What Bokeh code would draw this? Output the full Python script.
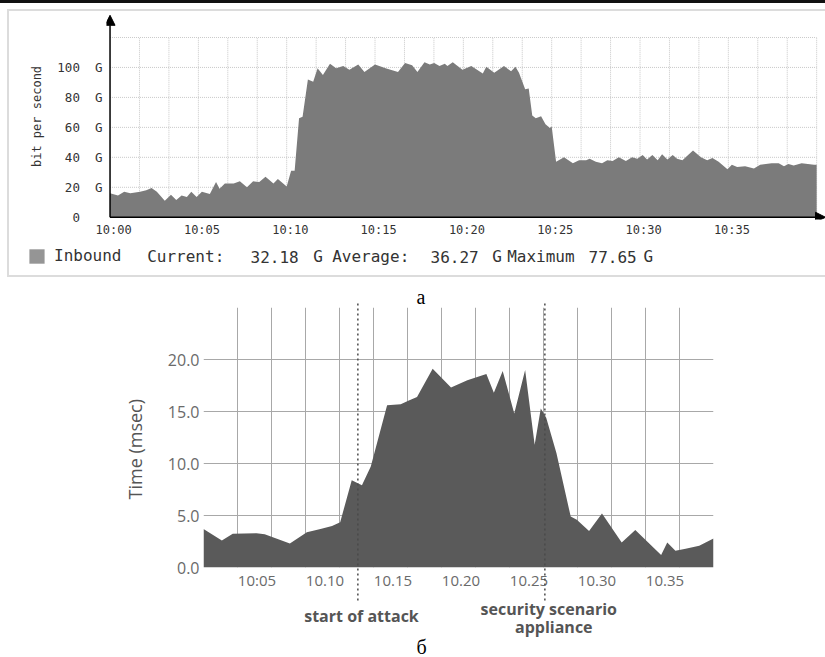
import numpy as np
from bokeh.plotting import figure
from bokeh.models import (Range1d, FixedTicker, Arrow, NormalHead, Label, Legend,
                          LegendItem, NumeralTickFormatter)
from bokeh.layouts import column
from bokeh.embed import file_html
from bokeh.resources import INLINE

# ---------------- data: chart (а) inbound traffic, minutes after 10:00, Gbit/s
top_t = [0.0, 0.45, 0.8, 1.15, 1.7, 2.05, 2.35, 2.65, 3.1, 3.45, 3.75, 4.05, 4.35, 4.6, 4.9,
         5.2, 5.65, 6.0, 6.2, 6.5, 7.0, 7.35, 7.75, 8.1, 8.45, 8.8, 9.25, 9.5, 10.0, 10.25,
         10.45, 10.7, 10.9, 11.2, 11.5, 11.75, 12.05, 12.45, 12.8, 13.2, 13.55, 14.05, 14.4,
         15.0, 15.6, 16.3, 16.7, 17.1, 17.4, 17.8, 18.1, 18.35, 18.65, 18.95, 19.1, 19.4,
         19.95, 20.45, 21.1, 21.3, 21.75, 22.3, 22.7, 22.95, 23.15, 23.5, 23.7, 23.9, 24.1,
         24.4, 24.65, 24.9, 25.0, 25.25, 25.7, 26.2, 26.55, 26.95, 27.15, 27.5, 27.85, 28.15,
         28.45, 28.8, 29.2, 29.55, 29.85, 30.15, 30.4, 30.7, 31.0, 31.25, 31.55, 31.85, 32.1,
         32.4, 33.0, 33.45, 33.8, 34.1, 34.45, 34.95, 35.2, 35.5, 35.95, 36.45, 36.8, 37.45,
         37.85, 38.15, 38.4, 38.7, 39.15, 39.85, 40.0]
top_v = [16, 14.5, 17, 16, 17, 18, 19.5, 17, 11, 15, 11.5, 14.5, 13.5, 17, 13.5,
         17, 15.5, 23.5, 19, 22.5, 22.5, 24, 20, 24, 23.5, 27, 22.5, 25.5, 20.5, 31,
         31, 66, 67, 92, 90.5, 99.5, 95, 102.5, 99.5, 101, 98.5, 102, 97,
         102, 99.5, 97, 103, 101.5, 97, 103.5, 102, 103, 101, 102.5, 101, 103.5,
         98.5, 101, 96, 100.5, 96.5, 101, 97.5, 100.5, 96.5, 85.5, 86, 68, 66,
         67.5, 62, 59.5, 60.5, 37, 40, 36, 38, 38, 39, 37, 36, 38,
         37.5, 40, 37.5, 40, 39, 41.5, 38.5, 41.5, 38, 42, 38.5, 41.5, 39,
         38, 44.5, 40, 38, 39.5, 37, 32, 35, 33.5, 34, 32.5, 35, 36,
         36, 34, 35.5, 34.5, 36, 35, 35]
top_xticks = [0, 5, 10, 15, 20, 25, 30, 35]
top_xlabels = ["10:00", "10:05", "10:10", "10:15", "10:20", "10:25", "10:30", "10:35"]
top_yticks = [0, 20, 40, 60, 80, 100]
top_ylabels = ["0", "20", "40", "60", "80", "100"]
series_name = "Inbound"
stat_names = ["Current:", "Average:", "Maximum"]
stat_values = ["32.18", "36.27", "77.65"]

# ---------------- data: chart (б) response time, minutes after 10:00, msec
bot_t = [2.5, 3.85, 4.65, 6.4, 7.0, 8.85, 10.1, 11.1, 11.95, 12.55, 13.4, 14.15, 14.8, 16.0,
         17.0, 17.6, 18.2, 19.35, 20.7, 21.9, 23.3, 23.85, 24.5, 25.35, 26.15, 26.85, 27.3,
         27.7, 28.45, 29.5, 29.95, 30.85, 31.8, 33.25, 34.25, 36.15, 36.6, 37.2, 37.95,
         38.95, 40.0]
bot_v = [3.7, 2.6, 3.25, 3.3, 3.2, 2.3, 3.4, 3.7, 4.0, 4.35, 8.4, 7.9, 9.7, 15.6,
         15.7, 16.05, 16.4, 19.1, 17.3, 18.0, 18.6, 16.8, 18.9, 14.8, 19.0, 11.8, 15.3,
         14.4, 11.0, 4.9, 4.6, 3.5, 5.2, 2.4, 3.6, 1.2, 2.4, 1.6, 1.8,
         2.1, 2.8]
bot_xticks = [5, 10, 15, 20, 25, 30, 35]
bot_xlabels = ["10:05", "10.10", "10.15", "10.20", "10.25", "10.30", "10.35"]
bot_yticks = [0, 5, 10, 15, 20]
event_t = [13.85, 27.6]
event_text = [["start of attack"], ["security scenario", "appliance"]]
captions = ["а", "б"]

NB = "\u00a0"
MONO = "DejaVu Sans Mono"
SANS = "Open Sans"
COMMON = dict(output_backend="svg", toolbar_location=None, title=None)

def transparent(p):
    p.outline_line_color = None
    p.border_fill_alpha = 0
    p.background_fill_alpha = 0
    p.frame_align = False

def bare_axis(axis, font, color):
    axis.axis_line_color = None
    axis.major_tick_line_color = None
    axis.minor_tick_line_color = None
    axis.major_tick_out = 0
    axis.major_tick_in = 0
    axis.minor_tick_out = 0
    axis.major_label_text_font = font
    axis.major_label_text_color = color

# ================= figure (а) =================
A_L, A_T, A_B, A_H = 106, 13, 58, 277
pa = figure(width=825, height=A_H, x_range=Range1d(-0.2, 40.5), y_range=Range1d(-1.5, 136),
            min_border_left=A_L, min_border_right=0, min_border_top=A_T,
            min_border_bottom=A_B, **COMMON)
pa.outline_line_color = None
pa.border_fill_alpha = 0
pa.background_fill_color = "white"
pa.frame_align = False
pa.grid.visible = False
g = "linear-gradient(#dcdcdc,#dcdcdc)"
pa.styles = {"background": "linear-gradient(#111,#111) 0 0/825px 3px no-repeat, "
             f"{g} 7px 9px/818px 2px no-repeat, {g} 7px 275px/818px 2px no-repeat, "
             f"{g} 7px 9px/2px 268px no-repeat"}

# dotted grid (drawn only up to 120 G)
vx = list(np.arange(1, 25) * 40 / 24)
pa.segment(x0=vx, y0=[0] * len(vx), x1=vx, y1=[120] * len(vx),
           line_color="#c8c8c8", line_dash="1 1", line_width=1)
hy = [20, 40, 60, 80, 100, 120]
pa.segment(x0=[0] * len(hy), y0=hy, x1=[40] * len(hy), y1=hy,
           line_color="#c8c8c8", line_dash="1 1", line_width=1)

pa.varea(x=top_t, y1=0, y2=top_v, fill_color="#7b7b7b")

pa.add_layout(Arrow(x_start=0, y_start=0, x_end=0, y_end=134.8, line_width=1.5,
                    line_color="black",
                    end=NormalHead(size=10, fill_color="black", line_color="black")))
pa.add_layout(Arrow(x_start=0, y_start=0, x_end=40.5, y_end=0, line_width=1.5,
                    line_color="black",
                    end=NormalHead(size=10, fill_color="black", line_color="black")))

bare_axis(pa.xaxis[0], MONO, "#333333")
bare_axis(pa.yaxis[0], MONO, "#333333")
pa.xaxis.ticker = FixedTicker(ticks=top_xticks)
pa.xaxis.major_label_overrides = {t: NB + s for t, s in zip(top_xticks, top_xlabels)}
pa.xaxis.major_label_text_font_size = "12px"
pa.xaxis.major_label_standoff = 3
pa.yaxis.ticker = FixedTicker(ticks=top_yticks)
pa.yaxis.major_label_overrides = {t: (s + NB * 3 if t == 0 else s + NB * 2 + "G")
                                  for t, s in zip(top_yticks, top_ylabels)}
pa.yaxis.major_label_text_font_size = "12.5px"
pa.yaxis.major_label_text_baseline = "alphabetic"
pa.yaxis.major_label_standoff = 4
pa.yaxis.axis_label = "bit per second"
pa.yaxis.axis_label_text_font = MONO
pa.yaxis.axis_label_text_font_size = "12px"
pa.yaxis.axis_label_text_font_style = "normal"
pa.yaxis.axis_label_text_color = "#333333"
pa.yaxis.axis_label_standoff = 10

# ---- legend row of (а): transparent overlay over the bottom strip of pa (page pixels)
OV_H = 40
pov = figure(width=825, height=OV_H, x_range=Range1d(0, 825),
             y_range=Range1d(A_H, A_H - OV_H), x_axis_type=None, y_axis_type=None,
             min_border_left=0, min_border_right=0, min_border_top=0, min_border_bottom=0,
             **COMMON)
transparent(pov)
pov.grid.visible = False
pov.margin = (-OV_H, 0, 0, 0)
# legend swatch proxy (kept outside the visible range)
swatch = pov.varea(x=[-30, -20], y1=[A_H, A_H], y2=[A_H - 5, A_H - 5], fill_color="#959595")
leg = Legend(items=[LegendItem(label=series_name, renderers=[swatch])],
             location=(27, A_H - 265), padding=0, margin=0, spacing=0,
             glyph_width=19, glyph_height=18, label_standoff=8, label_height=18,
             label_text_font=MONO, label_text_font_size="16px", label_text_color="#333333",
             border_line_color=None, background_fill_alpha=0)
pov.add_layout(leg)
stat_x = [(146.7, 250, 312.7), (331.7, 430, 491.7), (506.7, 588, 643)]
for name, val, (xn, xv, xg) in zip(stat_names, stat_values, stat_x):
    for txt, px in ((name, xn), (val, xv), ("G", xg)):
        pov.add_layout(Label(x=px, y=256, text=txt, text_font=MONO,
                             text_font_size="16px", text_color="#333333",
                             text_align="left", text_baseline="middle"))

# ================= figure (б) =================
B_L, B_R, B_T, B_B, B_H = 203, 112, 30, 90, 380
pb = figure(width=825, height=B_H, x_range=Range1d(2.5, 40), y_range=Range1d(0, 25),
            min_border_left=B_L, min_border_right=B_R, min_border_top=B_T,
            min_border_bottom=B_B, **COMMON)
pb.outline_line_color = None
pb.background_fill_color = "white"
pb.frame_align = False
fb_h = B_H - B_T - B_B
def by(py):
    return ((B_H - B_B) - py) * 25 / fb_h

pb.xgrid.ticker = FixedTicker(ticks=list(np.arange(1, 16) * 2.5 + 2.5))
pb.ygrid.ticker = FixedTicker(ticks=[5, 10, 15, 20, 25])
pb.grid.grid_line_color = "#a8a8a8"
pb.grid.grid_line_width = 1

pb.varea(x=bot_t, y1=0, y2=bot_v, fill_color="#5a5a5a")

bare_axis(pb.xaxis[0], SANS, "#6a6a6a")
bare_axis(pb.yaxis[0], SANS, "#6a6a6a")
pb.xaxis.ticker = FixedTicker(ticks=bot_xticks)
pb.xaxis.major_label_overrides = {t: NB * 10 + s for t, s in zip(bot_xticks, bot_xlabels)}
pb.xaxis.major_label_text_font_size = "15px"
pb.xaxis.major_label_standoff = 2
pb.yaxis.ticker = FixedTicker(ticks=bot_yticks)
pb.yaxis.formatter = NumeralTickFormatter(format="0.0")
pb.yaxis.major_label_text_font_size = "16px"
pb.yaxis.major_label_standoff = 4
pb.yaxis.axis_label = "Time (msec)" + NB * 5
pb.yaxis.axis_label_text_font = SANS
pb.yaxis.axis_label_text_font_size = "18px"
pb.yaxis.axis_label_text_font_style = "normal"
pb.yaxis.axis_label_text_color = "#555555"
pb.yaxis.axis_label_standoff = 18

# ---- annotations of (б): transparent overlay sharing pb's x scale, covering pb's canvas
pc = figure(width=825, height=B_H, x_range=pb.x_range, y_range=Range1d(by(B_H), by(0)),
            x_axis_type=None, y_axis_type=None,
            min_border_left=B_L, min_border_right=B_R, min_border_top=0, min_border_bottom=0,
            **COMMON)
transparent(pc)
pc.grid.visible = False
pc.margin = (-B_H, 0, 0, 0)
fb_w = 825 - B_L - B_R
def bx(px):
    return 2.5 + (px - B_L) * 37.5 / fb_w

pc.segment(x0=event_t, y0=[by(303 - A_H)] * 2, x1=event_t, y1=[by(601 - A_H)] * 2,
           line_color="#4a4a4a", line_width=1.5, line_dash="2 3")

ev_pos = [[(361, 615)], [(548.3, 608.5), (553.3, 626)]]
for lines, poss in zip(event_text, ev_pos):
    for txt, (px, py) in zip(lines, poss):
        pc.add_layout(Label(x=bx(px), y=by(py - A_H), text=txt, text_font=SANS,
                            text_font_size="16px", text_font_style="bold",
                            text_color="#555555", text_align="center", text_baseline="middle"))

for txt, (px, py) in zip(captions, [(420.5, 296), (421, 646)]):
    pc.add_layout(Label(x=bx(px), y=by(py - A_H), text=txt, text_font="Liberation Serif",
                        text_font_size="20px", text_color="black",
                        text_align="center", text_baseline="alphabetic"))

root = column(pa, pov, pb, pc, spacing=0)
open("out.html", "w").write(file_html(root, INLINE))
